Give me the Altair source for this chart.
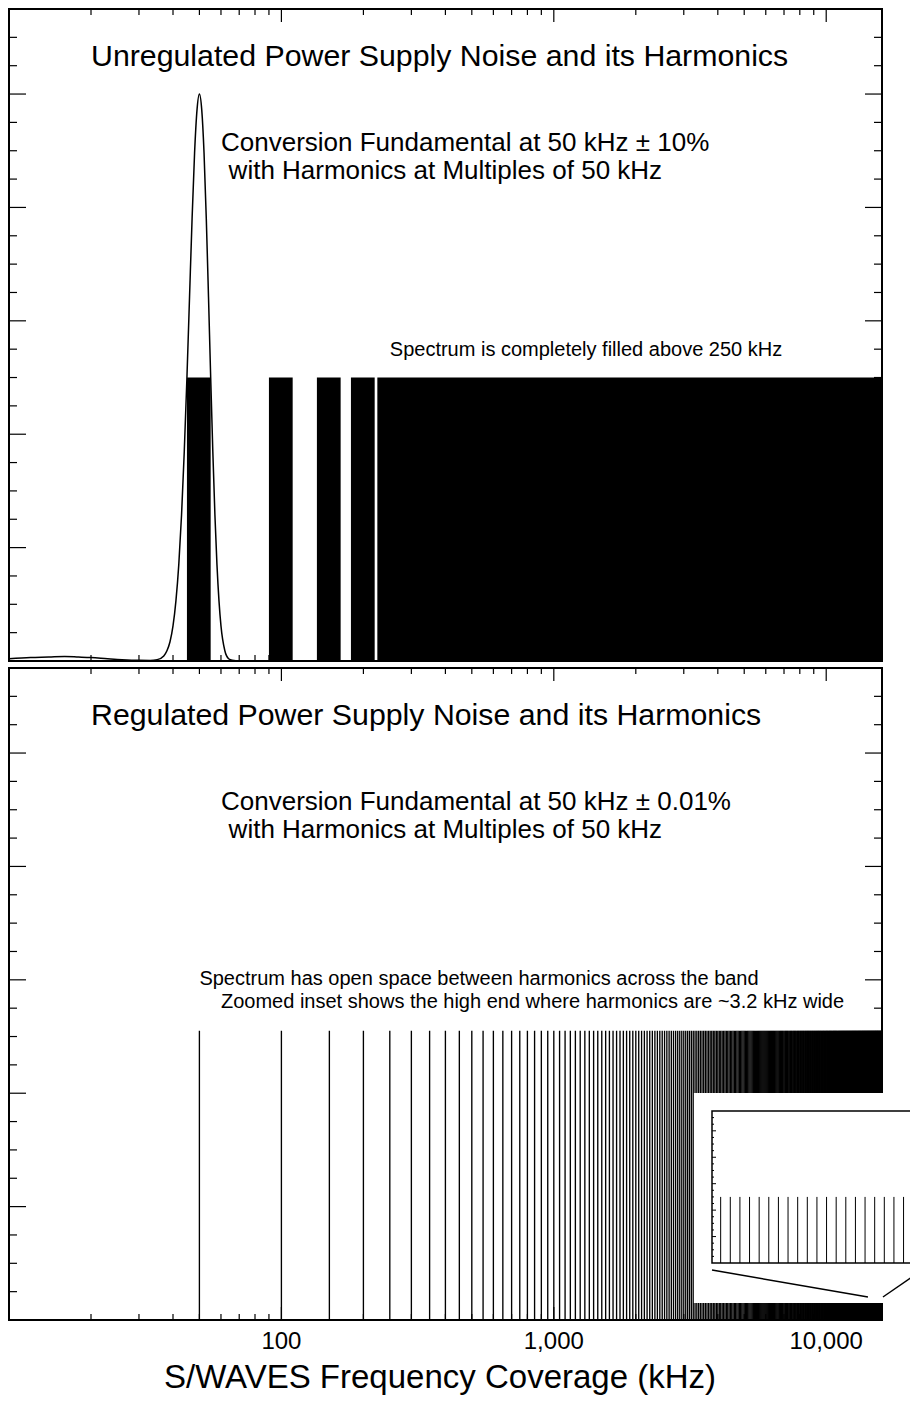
import altair as alt
import pandas as pd

FONT = "Liberation Sans"

# ---- axis limits (kHz, arbitrary amplitude units) ----
F_MIN, F_MAX = 10, 16025
Y_MAX = 5.75

# ---- layout (pixels inside the single view) ----
VIEW_W, VIEW_H = 901, 1386
PLOT_W = 873
TOP_RANGE = [652, 0]
BOT_RANGE = [1311, 659]

# ---- tick positions ----
x_minor = [20, 30, 40, 50, 60, 70, 80, 90,
           200, 300, 400, 500, 600, 700, 800, 900,
           2000, 3000, 4000, 5000, 6000, 7000, 8000, 9000]
x_major = [100, 1000, 10000]
x_labels = [100, 1000, 10000]
y_minor = [0.25, 0.5, 0.75, 1.25, 1.5, 1.75, 2.25, 2.5, 2.75, 3.25, 3.5, 3.75,
           4.25, 4.5, 4.75, 5.25, 5.5]
y_major = [1, 2, 3, 4, 5]
x_title = "S/WAVES Frequency Coverage (kHz)"

# ---- top panel: unregulated supply, harmonic bands 50 kHz multiples +-10% ----
band_lo = [45, 90, 135, 180, 225]
band_hi = [55, 110, 165, 220, 16025]
band_top = 2.5

peak_f = [10, 12, 14, 16, 18, 20, 23, 26, 30, 33, 35, 37, 38, 39, 40, 41, 42, 43, 44,
          45, 46, 47, 48, 49, 50, 51, 52, 53, 54, 55, 56, 57, 58, 59, 60, 62, 64, 66,
          70, 80, 90]
peak_v = [0.02, 0.03, 0.035, 0.04, 0.035, 0.03, 0.02, 0.012, 0.006, 0.005, 0.012, 0.045,
          0.09, 0.17, 0.31, 0.53, 0.85, 1.29, 1.85, 2.50, 3.21, 3.90, 4.48, 4.86, 5.00,
          4.86, 4.48, 3.90, 3.21, 2.50, 1.85, 1.29, 0.85, 0.53, 0.31, 0.09, 0.02, 0.006,
          0.0, 0.0, 0.0]

# ---- bottom panel: regulated supply, narrow harmonics at multiples of 50 kHz ----
fundamental_khz = 50
harmonics_khz = [fundamental_khz * n for n in range(1, 321)]
harmonic_top = 2.55

# inset (linear zoom of the high end)
inset_domain = [14955, 16025]
inset_frame = [14955, 16020]
inset_box_x = [14861, 16100]
inset_box_y = [-1.51, 6.43]
inset_harmonics_khz = [fundamental_khz * n for n in range(300, 321)]
inset_top = 2.5
conn_x0 = [14955, 15843]
conn_y0 = [-0.265, -1.286]
conn_x1 = [15765, 16060]
conn_y1 = [-1.286, -0.2]

# ---- annotation texts ----
top_text = ["Unregulated Power Supply Noise and its Harmonics",
            "Conversion Fundamental at 50 kHz \u00b1 10%",
            "with Harmonics at Multiples of 50 kHz",
            "Spectrum is completely filled above 250 kHz"]
top_text_f = [20, 60, 64, 250]
top_text_v = [5.25, 4.5, 4.25, 2.69]
top_text_size = [30.3, 26, 26, 20]

bot_text = ["Regulated Power Supply Noise and its Harmonics",
            "Conversion Fundamental at 50 kHz \u00b1 0.01%",
            "with Harmonics at Multiples of 50 kHz",
            "Spectrum has open space between harmonics across the band",
            "Zoomed inset shows the high end where harmonics are ~3.2 kHz wide"]
bot_text_f = [20, 60, 64, 50, 60]
bot_text_v = [5.25, 4.5, 4.25, 2.95, 2.75]
bot_text_size = [30.3, 26, 26, 20, 20]


def panel(y_range, texts, fs, vs, sizes, content, with_labels):
    xs = alt.Scale(type="log", domain=[F_MIN, F_MAX], range=[0, PLOT_W], nice=False)
    ys = alt.Scale(domain=[0, Y_MAX], range=y_range, nice=False, zero=False)

    def X(field):
        return alt.X(field, type="quantitative", scale=xs, axis=None)

    def Y(field):
        return alt.Y(field, type="quantitative", scale=ys, axis=None)

    top_px, bot_px = y_range[1], y_range[0]
    layers = []
    frame_df = pd.DataFrame({"x0": [F_MIN], "x1": [F_MAX], "y0": [0], "y1": [Y_MAX]})
    layers.append(alt.Chart(frame_df).mark_rect(fillOpacity=0, stroke="black", strokeWidth=2).encode(
        x=X("x0"), x2="x1", y=Y("y0"), y2="y1"))
    for vals, length in [(x_minor, 6), (x_major, 13)]:
        base = alt.Chart(pd.DataFrame({"f": vals})).mark_rule(color="black", strokeWidth=1.2)
        layers.append(base.encode(x=X("f"), y=alt.value(top_px), y2=alt.value(top_px + length)))
        layers.append(base.encode(x=X("f"), y=alt.value(bot_px - length), y2=alt.value(bot_px)))
    for vals, length in [(y_minor, 8), (y_major, 17)]:
        base = alt.Chart(pd.DataFrame({"v": vals})).mark_rule(color="black", strokeWidth=1.2)
        layers.append(base.encode(y=Y("v"), x=alt.value(0), x2=alt.value(length)))
        layers.append(base.encode(y=Y("v"), x=alt.value(PLOT_W - length), x2=alt.value(PLOT_W)))

    layers.extend(content(X, Y))

    tdf = pd.DataFrame({"label": texts, "f": fs, "v": vs, "size": sizes})
    layers.append(alt.Chart(tdf).mark_text(align="left", baseline="alphabetic", font=FONT,
                                           color="black").encode(
        x=X("f"), y=Y("v"), text="label:N", size=alt.Size("size:Q", scale=None)))

    if with_labels:
        layers.append(alt.Chart(pd.DataFrame({"f": x_labels})).mark_text(
            align="center", baseline="alphabetic", font=FONT, fontSize=24, color="black").encode(
            x=X("f"), y=alt.value(bot_px + 29), text=alt.Text("f:Q", format=",")))
        layers.append(alt.Chart(pd.DataFrame({"t": [x_title]})).mark_text(
            align="center", baseline="alphabetic", font=FONT, fontSize=33, color="black").encode(
            x=alt.value(431), y=alt.value(bot_px + 68), text="t:N"))
    return alt.layer(*layers)


def top_content(X, Y):
    bands_df = pd.DataFrame({"lo": band_lo, "hi": band_hi, "base": [0] * len(band_lo),
                             "top": [band_top] * len(band_lo)})
    bands = alt.Chart(bands_df).mark_rect(color="black").encode(
        x=X("lo"), x2="hi", y=Y("base"), y2="top")
    peak = alt.Chart(pd.DataFrame({"f": peak_f, "v": peak_v})).mark_line(
        color="black", strokeWidth=1.5, interpolate="monotone").encode(x=X("f"), y=Y("v"))
    return [bands, peak]


def bottom_content(X, Y):
    harm_df = pd.DataFrame({"f": harmonics_khz, "base": [0] * len(harmonics_khz),
                            "top": [harmonic_top] * len(harmonics_khz)})
    return [alt.Chart(harm_df).mark_rule(color="black", strokeWidth=1.35).encode(
        x=X("f"), y=Y("base"), y2="top")]


top = panel(TOP_RANGE, top_text, top_text_f, top_text_v, top_text_size, top_content, False)
bottom = panel(BOT_RANGE, bot_text, bot_text_f, bot_text_v, bot_text_size, bottom_content, True)

# ---- inset ----
ix = alt.Scale(domain=inset_domain, range=[703, 909], nice=False, zero=False)
iy = alt.Scale(domain=[0, Y_MAX], range=[1254, 1102], nice=False, zero=False)


def IX(field):
    return alt.X(field, type="quantitative", scale=ix, axis=None)


def IY(field):
    return alt.Y(field, type="quantitative", scale=iy, axis=None)


box = alt.Chart(pd.DataFrame({"x0": [inset_box_x[0]], "x1": [inset_box_x[1]],
                              "y0": [inset_box_y[0]], "y1": [inset_box_y[1]]})).mark_rect(
    color="white").encode(x=IX("x0"), x2="x1", y=IY("y0"), y2="y1")
iframe = alt.Chart(pd.DataFrame({"x0": [inset_frame[0]], "x1": [inset_frame[1]],
                                 "y0": [0], "y1": [Y_MAX]})).mark_rect(
    fillOpacity=0, stroke="black", strokeWidth=1.5).encode(x=IX("x0"), x2="x1", y=IY("y0"), y2="y1")
ilines = alt.Chart(pd.DataFrame({"f": inset_harmonics_khz, "base": [0] * len(inset_harmonics_khz),
                                 "top": [inset_top] * len(inset_harmonics_khz)})).mark_rule(
    color="black", strokeWidth=1).encode(x=IX("f"), y=IY("base"), y2="top")
conn = alt.Chart(pd.DataFrame({"x0": conn_x0, "y0": conn_y0, "x1": conn_x1, "y1": conn_y1})).mark_rule(
    color="black", strokeWidth=1.5).encode(x=IX("x0"), x2="x1", y=IY("y0"), y2="y1")
iticks = []
for vals, length in [(y_minor, 2), (y_major, 4)]:
    base = alt.Chart(pd.DataFrame({"v": vals})).mark_rule(color="black", strokeWidth=1)
    iticks.append(base.encode(y=IY("v"), x=alt.value(703), x2=alt.value(703 + length)))
    iticks.append(base.encode(y=IY("v"), x=alt.value(908 - length), x2=alt.value(908)))

inset = alt.layer(box, ilines, iframe, conn, *iticks)

chart = alt.layer(top, bottom, inset).resolve_scale(
    x="independent", y="independent"
).properties(
    width=VIEW_W, height=VIEW_H,
    autosize=alt.AutoSizeParams(type="none"),
    padding={"left": 1, "top": 1, "right": 0, "bottom": 0},
).configure_view(strokeWidth=0)

chart.save("out.html", embed_options={"renderer": "svg", "actions": False})
